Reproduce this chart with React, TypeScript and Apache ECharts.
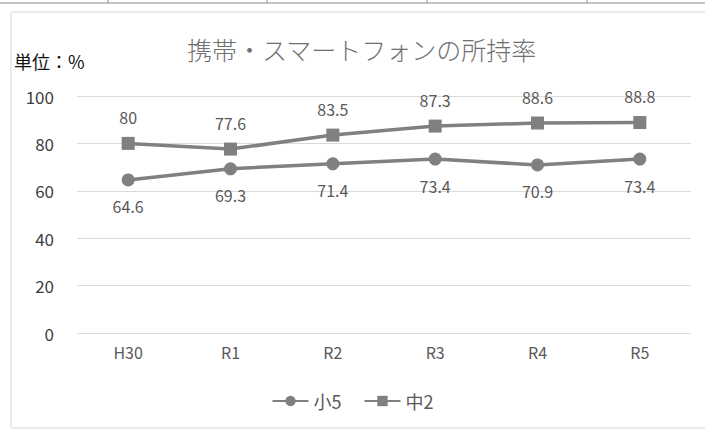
import React, { useEffect, useRef } from "react";
import * as echarts from "echarts";

const categories = ["H30", "R1", "R2", "R3", "R4", "R5"];
const elementary5 = [64.6, 69.3, 71.4, 73.4, 70.9, 73.4];
const juniorHigh2 = [80, 77.6, 83.5, 87.3, 88.6, 88.8];
const seriesNames = ["小5", "中2"];
const titleText = "携帯・スマートフォンの所持率";
const unitText = "単位：%";
const tableColumnXs = [108, 267, 427, 587];

const FONT = '"Noto Sans CJK JP", "Noto Sans", sans-serif';
const GREY_TEXT = "#595959";
const LINE_GREY = "#808080";

export default function App() {
  const ref = useRef<HTMLDivElement>(null);

  useEffect(() => {
    if (!ref.current) return;
    const chart = echarts.init(ref.current, null, { renderer: "svg" });

    const labelStyle = {
      show: true,
      color: GREY_TEXT,
      fontSize: 16,
      fontFamily: FONT,
      distance: 12,
    };

    chart.setOption({
      animation: false,
      backgroundColor: "#ffffff",
      textStyle: { fontFamily: FONT },
      title: {
        text: titleText,
        left: 182,
        top: 31,
        textStyle: {
          color: "#707070",
          fontSize: 25,
          fontWeight: 300,
          fontFamily: FONT,
        },
      },
      graphic: [
        // surrounding frame of the chart area
        {
          type: "rect",
          shape: { x: 11, y: 12, width: 700, height: 416 },
          style: { fill: "none", stroke: "#d6d6d6", lineWidth: 1 },
          silent: true,
        },
        // table rule along the top edge
        {
          type: "line",
          shape: { x1: 0, y1: 3, x2: 705, y2: 3 },
          style: { stroke: "#8a8a8a", lineWidth: 1 },
          silent: true,
        },
        ...tableColumnXs.map((x) => ({
          type: "line",
          shape: { x1: x, y1: 0, x2: x, y2: 3 },
          style: { stroke: "#8a8a8a", lineWidth: 1 },
          silent: true,
        })),
        {
          type: "text",
          left: 14,
          top: 52,
          style: {
            text: unitText,
            fill: "#111111",
            fontSize: 18,
            fontFamily: FONT,
          },
        },
      ],
      legend: {
        data: seriesNames,
        bottom: 15,
        left: "center",
        itemWidth: 36,
        itemHeight: 13,
        itemGap: 22,
        textStyle: { color: GREY_TEXT, fontSize: 18, fontFamily: FONT },
      },
      grid: { left: 77, right: 14, top: 96, bottom: 97 },
      xAxis: {
        type: "category",
        data: categories,
        boundaryGap: true,
        axisLine: { show: false },
        axisTick: { show: false },
        axisLabel: {
          color: GREY_TEXT,
          fontSize: 16,
          margin: 11,
          fontFamily: FONT,
        },
      },
      yAxis: {
        type: "value",
        min: 0,
        max: 100,
        interval: 20,
        axisLine: { show: false },
        axisTick: { show: false },
        axisLabel: {
          color: "#404040",
          fontSize: 17,
          margin: 23,
          fontFamily: FONT,
        },
        splitLine: { lineStyle: { color: "#dadada", width: 1 } },
      },
      series: [
        {
          name: seriesNames[0],
          type: "line",
          data: elementary5,
          symbol: "circle",
          symbolSize: 13,
          lineStyle: { color: LINE_GREY, width: 3.5 },
          itemStyle: { color: LINE_GREY },
          label: { ...labelStyle, position: "bottom" },
        },
        {
          name: seriesNames[1],
          type: "line",
          data: juniorHigh2,
          symbol: "rect",
          symbolSize: 13,
          lineStyle: { color: LINE_GREY, width: 3.5 },
          itemStyle: { color: LINE_GREY },
          label: { ...labelStyle, position: "top" },
        },
      ],
    });

    return () => chart.dispose();
  }, []);

  return (
    <div
      ref={ref}
      style={{ position: "absolute", left: 0, top: 0, width: 705, height: 430 }}
    />
  );
}
